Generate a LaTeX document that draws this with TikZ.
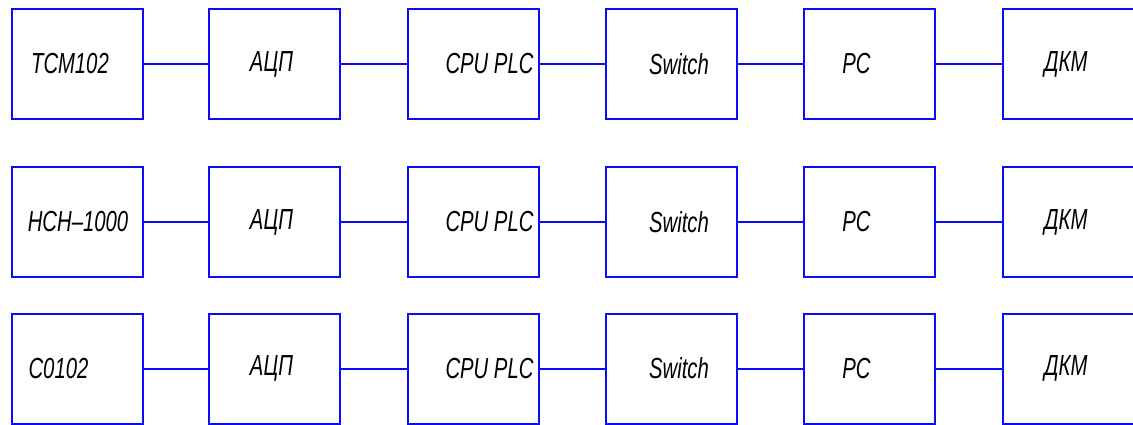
\documentclass[tikz,border=0pt]{standalone}
\usepackage{fontspec}
\newfontfamily\gostfont{Liberation Sans}[FakeStretch=0.7]
\definecolor{lineblue}{RGB}{10,10,255}
\begin{document}
\begin{tikzpicture}[x=1pt,y=-1pt,
  blockbox/.style={draw=lineblue,line width=2pt,minimum width=131pt,minimum height=110pt,inner sep=0pt},
  lbl/.style={font=\gostfont\itshape\fontsize{29}{30}\selectfont,text=black,inner sep=0pt},
  wire/.style={draw=lineblue,line width=2pt}]
\useasboundingbox (0,0) rectangle (1133,425);
% rows: centers y = 64, 222, 368.5 ; column left x
\foreach \r/\y in {1/64,2/222,3/368.5}{
  \foreach \c/\x in {1/11,2/208,3/407,4/605,5/803,6/1001.5}{
    \node[blockbox,anchor=west] (b\r\c) at (\x,\y) {};
  }
  \foreach \c/\d in {1/2,2/3,3/4,4/5,5/6}{
    \draw[wire] (b\r\c.east) -- (b\r\d.west);
  }
}
\node[lbl] (t11) at (70,64) {ТСМ102};
\node[lbl] (t21) at (78,222) {НСН–1000};
\node[lbl] (t31) at (58.5,368.5) {С0102};
\foreach \r/\y in {1/64,2/222,3/368.5}{
  \node[lbl] (t\r2) at (271.5,\y) {АЦП};
  \node[lbl] (t\r3) at (489.5,\y) {CPU PLC};
  \node[lbl] (t\r4) at (679,\y) {Switch};
  \node[lbl] (t\r5) at (856.5,\y) {PC};
  \node[lbl] (t\r6) at (1066,\y) {ДКМ};
}
\end{tikzpicture}
\end{document}
